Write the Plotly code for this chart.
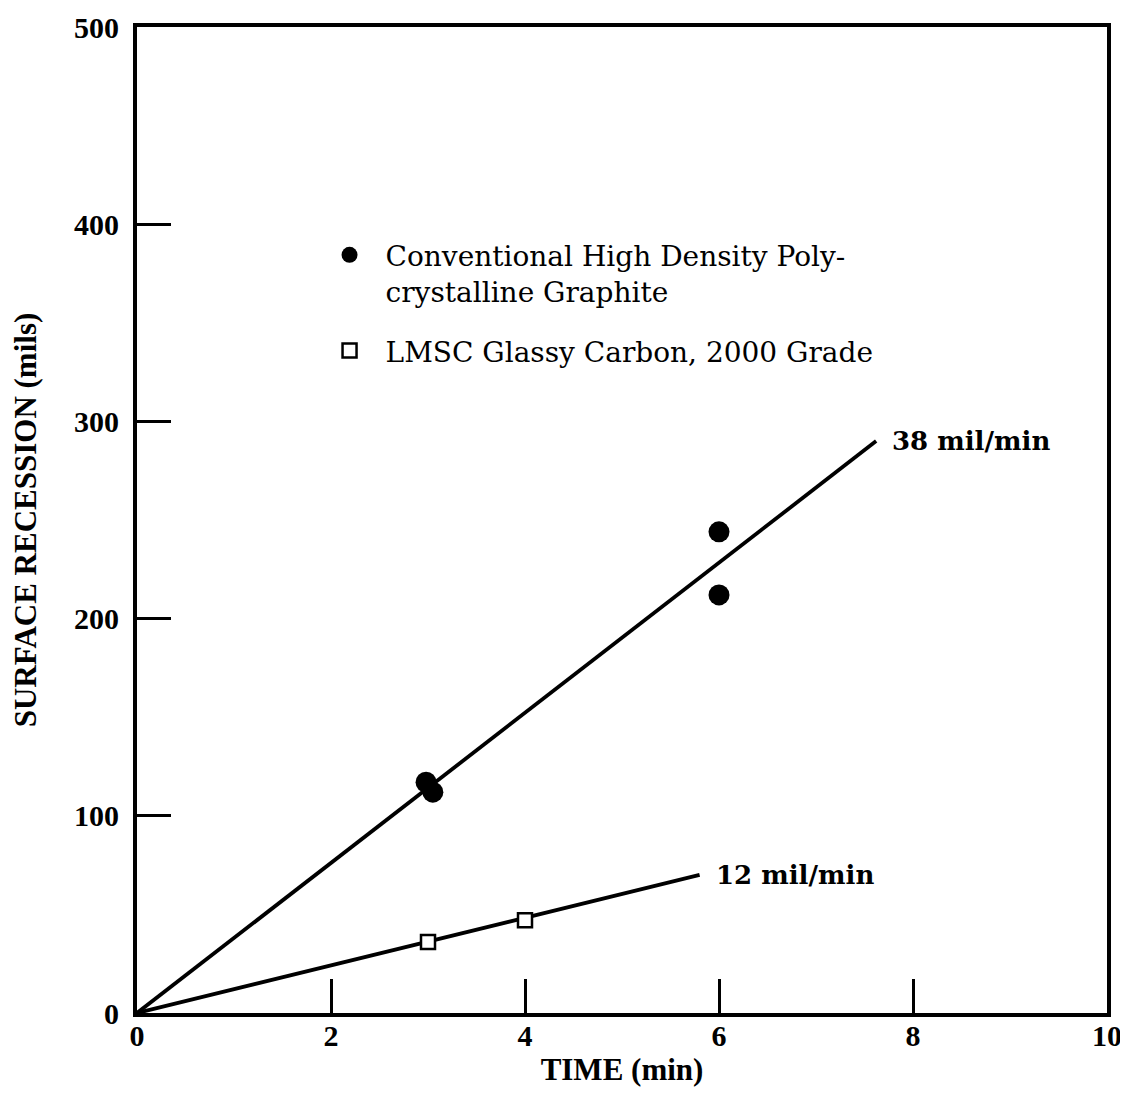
import plotly.graph_objects as go

# Data
graphite_time = [2.98, 3.05, 6.0, 6.0]
graphite_recession = [117, 112, 244, 212]
glassy_time = [3.0, 4.0]
glassy_recession = [36, 47]

fit_graphite_time = [0, 7.62]
fit_graphite_recession = [0, 290]
fit_glassy_time = [0, 5.8]
fit_glassy_recession = [0, 70]

fit_labels = ["38 mil/min", "12 mil/min"]

x_ticks = [0, 2, 4, 6, 8, 10]
y_ticks = [0, 100, 200, 300, 400, 500]

TICKFONT = "Liberation Serif"
TEXTFONT = "DejaVu Serif"

fig = go.Figure()

fig.add_trace(go.Scatter(x=fit_graphite_time, y=fit_graphite_recession, mode="lines",
                         line=dict(color="black", width=3.8), showlegend=False, hoverinfo="skip"))
fig.add_trace(go.Scatter(x=fit_glassy_time, y=fit_glassy_recession, mode="lines",
                         line=dict(color="black", width=3.8), showlegend=False, hoverinfo="skip"))

fig.add_trace(go.Scatter(x=graphite_time, y=graphite_recession, mode="markers",
                         marker=dict(symbol="circle", size=21, color="black"),
                         legendgroup="g1",
                         name="Conventional High Density Poly-<br>crystalline Graphite"))
fig.add_trace(go.Scatter(x=glassy_time, y=glassy_recession, mode="markers",
                         marker=dict(symbol="square", size=14, color="white",
                                     line=dict(color="black", width=2.5)),
                         legendgroup="g2",
                         name="LMSC Glassy Carbon, 2000 Grade"))

fig.add_annotation(x=fit_graphite_time[-1], y=fit_graphite_recession[-1], text=fit_labels[0],
                   showarrow=False, xanchor="left", yanchor="middle", xshift=14,
                   font=dict(family=TEXTFONT, size=26, color="black", weight="bold"))
fig.add_annotation(x=fit_glassy_time[-1], y=fit_glassy_recession[-1], text=fit_labels[1],
                   showarrow=False, xanchor="left", yanchor="middle", xshift=14,
                   font=dict(family=TEXTFONT, size=26, color="black", weight="bold"))

axis_common = dict(
    showline=True, linecolor="black", linewidth=4, mirror=True,
    showgrid=False, zeroline=False, automargin=False,
    ticks="inside", ticklen=34, tickwidth=2.5, tickcolor="black",
    tickfont=dict(family=TICKFONT, size=30, color="black", weight="bold"),
)

fig.update_xaxes(range=[0, 10], tickvals=x_ticks, ticktext=[str(v) for v in x_ticks],
                 ticklabelstandoff=-7,
                 title=dict(text="TIME (min)",
                            font=dict(family=TICKFONT, size=31, color="black", weight="bold"),
                            standoff=8),
                 **axis_common)
fig.update_yaxes(range=[0, 500], tickvals=y_ticks, ticktext=[str(v) for v in y_ticks],
                 ticklabelstandoff=8,
                 title=dict(text="SURFACE RECESSION (mils)",
                            font=dict(family=TICKFONT, size=31, color="black", weight="bold"),
                            standoff=40),
                 **axis_common)

fig.update_layout(
    width=1128, height=1117,
    margin=dict(l=129, r=29, t=19, b=112),
    paper_bgcolor="white", plot_bgcolor="white",
    showlegend=True,
    legend=dict(x=0.182, y=0.794, xanchor="left", yanchor="top", valign="top",
                bgcolor="rgba(0,0,0,0)",
                font=dict(family=TEXTFONT, size=28, color="black"),
                tracegroupgap=20, itemwidth=62),
)

fig.write_html("out.html")
